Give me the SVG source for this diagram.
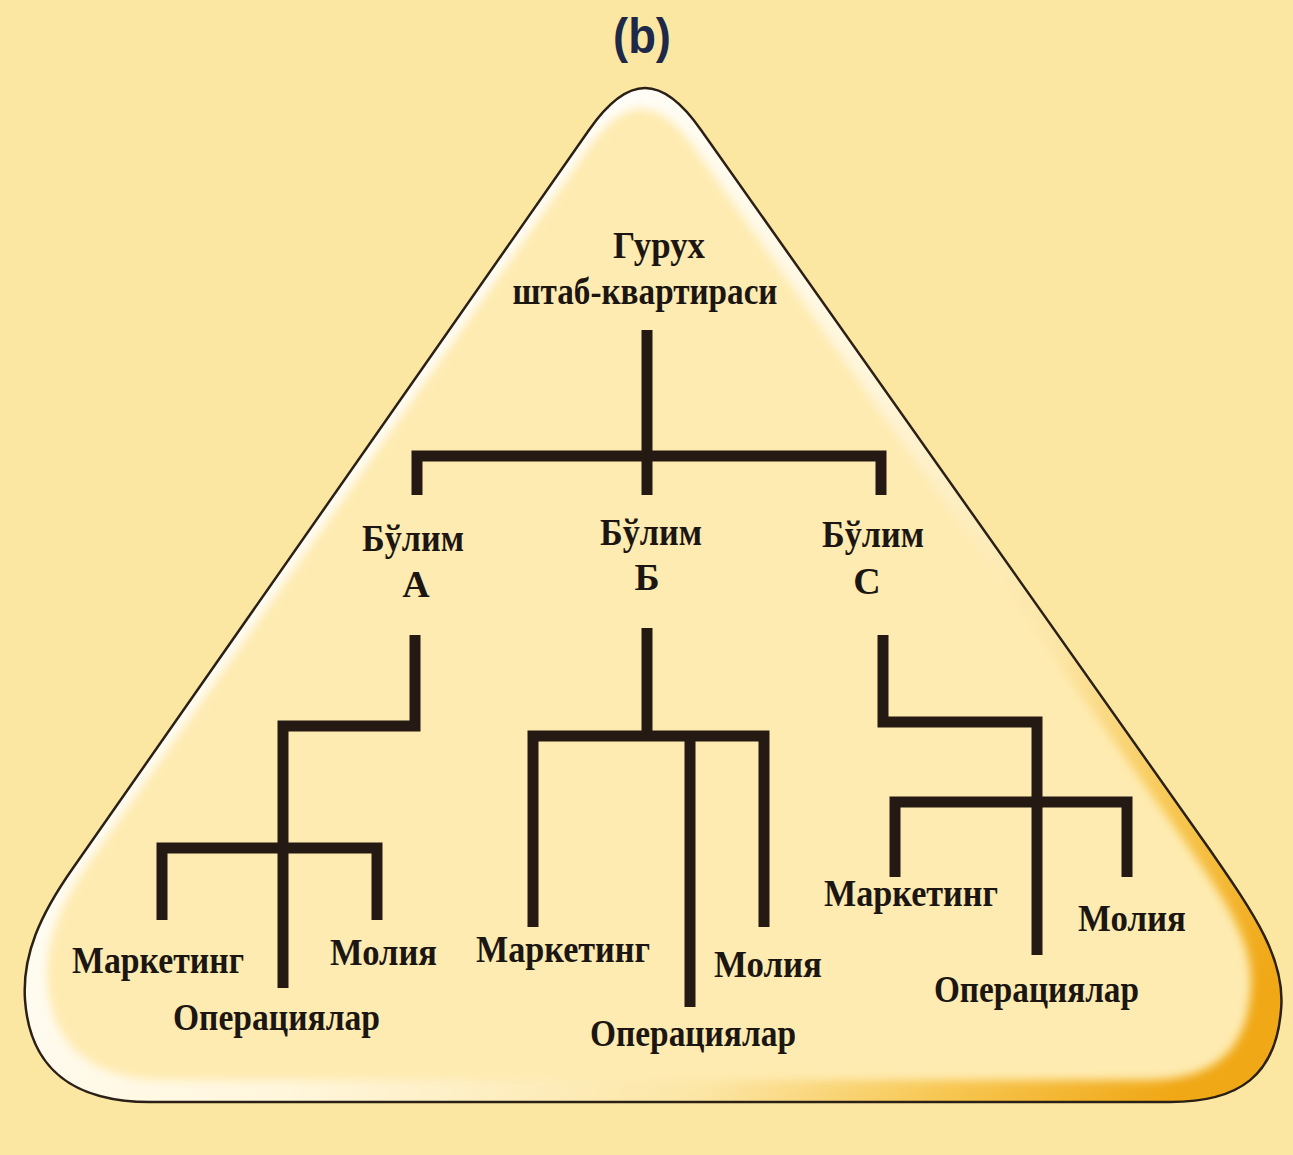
<svg xmlns="http://www.w3.org/2000/svg" width="1293" height="1155" viewBox="0 0 1293 1155">
  <defs>
    <style>
      .lbl { font-family: "Liberation Serif", "DejaVu Serif", serif; font-weight: bold; font-size: 38px; fill: #1c1612; }
      .conn { fill: none; stroke: #241a13; stroke-width: 11; stroke-linecap: butt; stroke-linejoin: miter; }
      .title { font-family: "Liberation Sans", "DejaVu Sans", sans-serif; font-weight: bold; font-size: 50px; fill: #1e2949; }
    </style>
    <linearGradient id="edgeGrad" gradientUnits="userSpaceOnUse" x1="250" y1="400" x2="1150" y2="1120">
      <stop offset="0" stop-color="#FFFFFF"/>
      <stop offset="0.4" stop-color="#FFF6DC"/>
      <stop offset="0.68" stop-color="#FCE6A6"/>
      <stop offset="0.85" stop-color="#F7C650"/>
      <stop offset="1" stop-color="#F0A816"/>
    </linearGradient>
    <filter id="soft" x="-10%" y="-10%" width="120%" height="120%">
      <feGaussianBlur stdDeviation="5"/>
    </filter>
    <path id="tri" d="M589,130 C628,74 662,74 701,130 L1210,850 C1255,915 1286,960 1281,1010 C1276,1075 1240,1102 1170,1102 L150,1102 C75,1102 30,1070 25,1000 C22,955 40,915 73,868 Z"/>
  </defs>

  <rect width="1293" height="1155" fill="#FCE7A2"/>

  <g id="title">
    <text class="title" x="642" y="53" text-anchor="middle" textLength="58" lengthAdjust="spacingAndGlyphs">(b)</text>
  </g>

  <g id="frame">
    <use href="#tri" fill="url(#edgeGrad)"/>
    <use href="#tri" fill="#FEEBB1" filter="url(#soft)" transform="translate(648,738) scale(0.958) translate(-652,-745)"/>
    <use href="#tri" fill="none" stroke="#2a2016" stroke-width="2.5"/>
  </g>

  <g id="connectors">
    <path class="conn" d="M647,330 V495"/>
    <path class="conn" d="M417,495 V456 H881 V495"/>
    <path class="conn" d="M415,635 V726 H283 V988"/>
    <path class="conn" d="M162,920 V848 H377 V920"/>
    <path class="conn" d="M647,628 V736"/>
    <path class="conn" d="M533,927 V736 H764 V927"/>
    <path class="conn" d="M690,736 V1007"/>
    <path class="conn" d="M883,635 V722 H1037 V955"/>
    <path class="conn" d="M895,877 V802 H1127 V877"/>
  </g>

  <g id="hq">
    <text class="lbl" x="659" y="258" text-anchor="middle" textLength="92" lengthAdjust="spacingAndGlyphs">Гурух</text>
    <text class="lbl" x="645" y="304" text-anchor="middle" textLength="265" lengthAdjust="spacingAndGlyphs">штаб-квартираси</text>
  </g>

  <g id="div-a">
    <text class="lbl" x="413" y="551" text-anchor="middle" textLength="102" lengthAdjust="spacingAndGlyphs">Бўлим</text>
    <text class="lbl" x="416" y="597" text-anchor="middle">А</text>
  </g>
  <g id="div-b">
    <text class="lbl" x="651" y="545" text-anchor="middle" textLength="102" lengthAdjust="spacingAndGlyphs">Бўлим</text>
    <text class="lbl" x="647" y="590" text-anchor="middle">Б</text>
  </g>
  <g id="div-c">
    <text class="lbl" x="873" y="547" text-anchor="middle" textLength="102" lengthAdjust="spacingAndGlyphs">Бўлим</text>
    <text class="lbl" x="867" y="594" text-anchor="middle">С</text>
  </g>

  <g id="a-marketing"><text class="lbl" x="72" y="973" textLength="172" lengthAdjust="spacingAndGlyphs">Маркетинг</text></g>
  <g id="a-finance"><text class="lbl" x="330" y="965" textLength="107" lengthAdjust="spacingAndGlyphs">Молия</text></g>
  <g id="a-operations"><text class="lbl" x="173" y="1030" textLength="207" lengthAdjust="spacingAndGlyphs">Операциялар</text></g>

  <g id="b-marketing"><text class="lbl" x="476" y="962" textLength="174" lengthAdjust="spacingAndGlyphs">Маркетинг</text></g>
  <g id="b-finance"><text class="lbl" x="714" y="977" textLength="108" lengthAdjust="spacingAndGlyphs">Молия</text></g>
  <g id="b-operations"><text class="lbl" x="590" y="1046" textLength="206" lengthAdjust="spacingAndGlyphs">Операциялар</text></g>

  <g id="c-marketing"><text class="lbl" x="824" y="906" textLength="174" lengthAdjust="spacingAndGlyphs">Маркетинг</text></g>
  <g id="c-finance"><text class="lbl" x="1078" y="931" textLength="108" lengthAdjust="spacingAndGlyphs">Молия</text></g>
  <g id="c-operations"><text class="lbl" x="934" y="1002" textLength="205" lengthAdjust="spacingAndGlyphs">Операциялар</text></g>
</svg>
